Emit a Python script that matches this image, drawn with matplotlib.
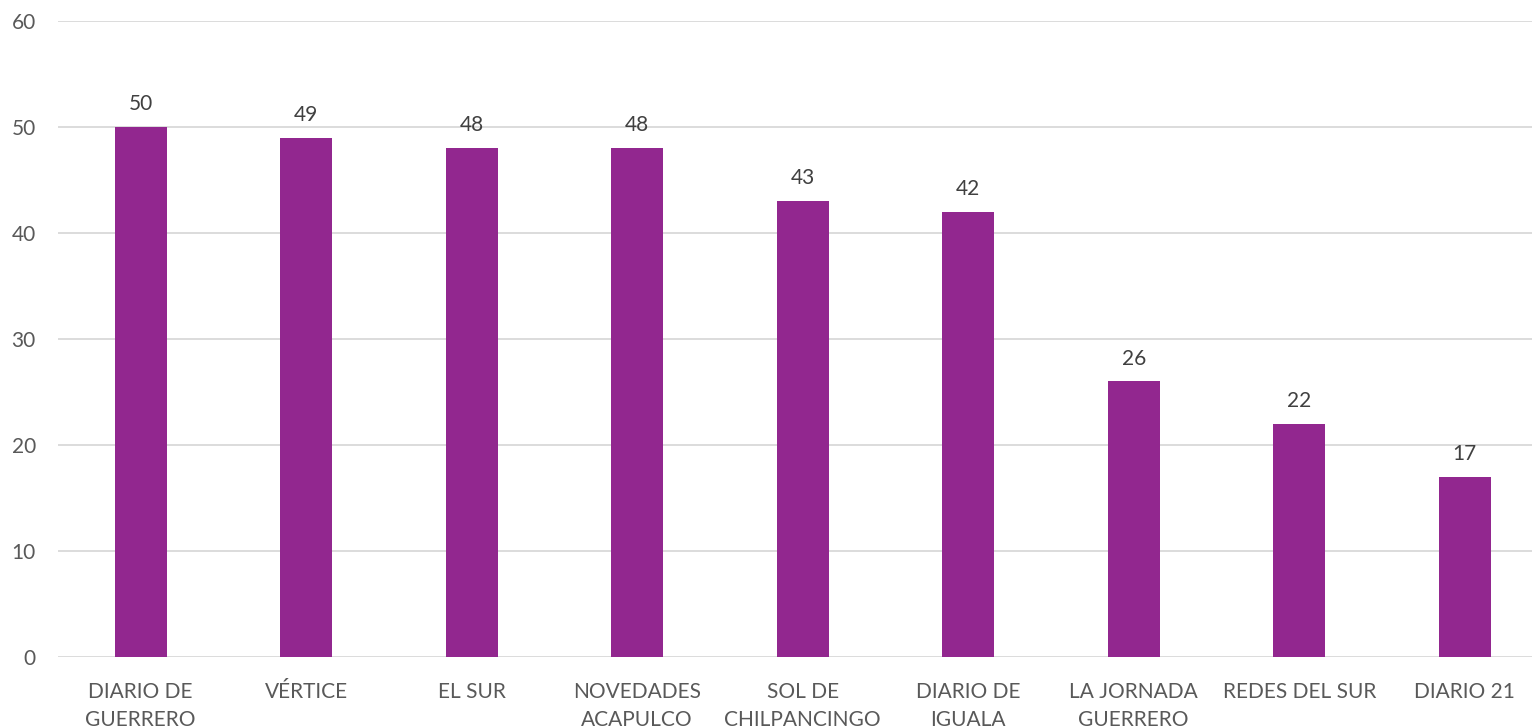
import numpy as np
import matplotlib.pyplot as plt

plt.rcParams['font.family'] = ['Lato', 'DejaVu Sans']

medios = ["DIARIO DE\nGUERRERO", "VÉRTICE", "EL SUR", "NOVEDADES\nACAPULCO",
          "SOL DE\nCHILPANCINGO", "DIARIO DE\nIGUALA", "LA JORNADA\nGUERRERO",
          "REDES DEL SUR", "DIARIO 21"]
valores = [50, 49, 48, 48, 43, 42, 26, 22, 17]

gris = "#595959"

fig = plt.figure(figsize=(15.32, 7.27), dpi=100)
ax = fig.add_axes([58 / 1532, 70 / 727, 1489.5 / 1532, 636 / 727])

x = np.arange(len(medios))
bars = ax.bar(x, valores, width=0.314, color="#92278F", zorder=3)

for b, v in zip(bars, valores):
    ax.text(b.get_x() + b.get_width() / 2, v + 1.2, str(v), ha='center', va='bottom',
            fontsize=15, color="#404040")

ax.set_xlim(-0.5, len(medios) - 0.5)
ax.set_ylim(0, 60)
ax.set_yticks(range(0, 61, 10))
ax.yaxis.grid(True, color="#D9D9D9", linewidth=1.3)
ax.set_axisbelow(True)
for s in ax.spines.values():
    s.set_visible(False)

ax.set_xticks(x)
ax.set_xticklabels(medios, fontsize=15, color=gris, linespacing=1.5, va='top')
ax.tick_params(axis='x', length=0, pad=18)
ax.tick_params(axis='y', length=0, pad=16, labelsize=15, labelcolor=gris)

fig.savefig("out.png", dpi=100)
